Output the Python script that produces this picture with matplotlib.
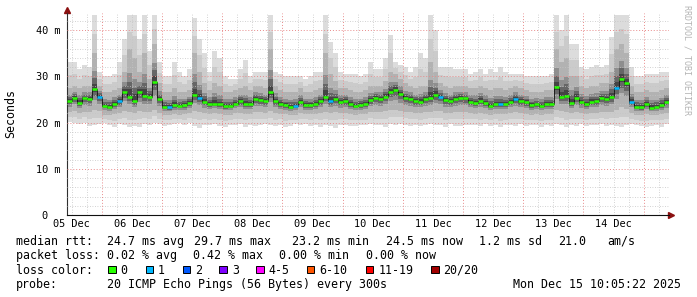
import numpy as np
import matplotlib.pyplot as plt
from matplotlib.patches import Rectangle
from datetime import datetime, timedelta

# ---- data (2 h steps, 10 days ending at the graph time) ----
end_time = datetime(2025, 12, 15, 10, 5, 22)
span_h = 240
step_h = 2

# median rtt per step (ms)
med = [24.6, 25.3, 24.3, 25.2, 25.0, 27.2, 25.6, 23.6, 23.4, 23.9, 24.6, 26.6, 25.6, 24.7, 26.6, 25.8, 25.6, 28.8, 25.0, 23.4,
       23.3, 23.8, 23.6, 23.8, 24.2, 26.0, 25.3, 24.4, 24.0, 24.1, 23.9, 23.5, 23.6, 24.1, 24.6, 24.0, 24.0, 25.0, 24.8, 24.6,
       26.5, 24.6, 24.0, 23.7, 23.4, 23.6, 24.5, 23.8, 23.7, 24.0, 24.6, 25.6, 24.6, 25.0, 24.4, 24.6, 24.0, 23.6, 23.8, 24.1,
       24.9, 25.3, 25.0, 25.6, 26.6, 27.1, 26.1, 25.3, 25.1, 24.6, 24.5, 25.0, 25.4, 26.0, 25.6, 24.8, 24.6, 25.1, 25.4, 25.2,
       24.5, 24.2, 24.7, 24.2, 23.6, 24.0, 23.9, 24.1, 24.5, 25.0, 24.6, 24.4, 23.7, 23.9, 23.6, 24.0, 24.1, 27.6, 25.5, 25.8,
       24.2, 25.4, 24.4, 24.0, 24.5, 24.6, 25.2, 25.1, 25.5, 27.5, 29.4, 28.5, 24.5, 23.4, 23.3, 23.9, 23.2, 23.4, 23.8, 24.4]
# smoke: lowest ping, lower / upper quartile, highest ping
lo = [20.2, 19.8, 19.6, 19.9, 19.2, 19.4, 19.6, 19.8, 19.5, 19.0, 19.6, 19.5, 19.0, 19.3, 19.1, 19.6, 19.4, 19.8, 19.6, 19.3,
      19.5, 19.6, 19.9, 19.4, 19.8, 19.2, 18.8, 19.5, 19.4, 19.7, 19.3, 19.0, 19.5, 19.4, 19.6, 19.1, 19.5, 19.3, 19.5, 19.6,
      19.4, 19.2, 19.5, 19.0, 19.3, 19.6, 19.5, 19.7, 19.3, 19.5, 19.1, 19.4, 19.2, 18.8, 19.4, 19.5, 19.3, 19.2, 19.5, 19.4,
      19.6, 19.4, 19.5, 19.0, 19.6, 19.4, 19.7, 19.5, 19.2, 19.5, 19.3, 19.5, 19.6, 19.4, 19.5, 19.1, 19.6, 19.3, 19.2, 19.5,
      19.4, 19.5, 19.2, 19.6, 19.3, 19.5, 19.0, 19.4, 19.5, 19.3, 19.6, 19.2, 19.5, 19.4, 19.0, 19.5, 19.3, 19.6, 19.5, 19.0,
      19.4, 19.2, 19.6, 19.3, 19.5, 19.4, 19.6, 19.3, 19.5, 19.2, 19.0, 19.4, 19.6, 19.4, 19.2, 19.0, 19.3, 19.5, 19.1, 19.6]
q1 = [22.3, 22.5, 22.1, 22.3, 22.2, 22.6, 22.4, 21.7, 21.6, 21.8, 22.0, 22.5, 22.2, 22.0, 22.4, 22.3, 22.2, 22.8, 22.1, 21.6,
      21.6, 21.8, 21.7, 21.8, 22.0, 22.4, 22.2, 22.0, 21.9, 22.0, 21.9, 21.7, 21.7, 22.0, 22.1, 21.9, 21.9, 22.2, 22.2, 22.1,
      22.5, 22.1, 21.9, 21.8, 21.7, 21.7, 22.0, 21.8, 21.8, 21.9, 22.1, 22.3, 22.1, 22.2, 22.0, 22.1, 21.9, 21.7, 21.8, 21.9,
      22.2, 22.3, 22.2, 22.4, 22.7, 22.8, 22.5, 22.3, 22.2, 22.1, 22.0, 22.2, 22.3, 22.5, 22.4, 22.1, 22.1, 22.2, 22.3, 22.2,
      22.0, 21.9, 22.1, 21.9, 21.7, 21.9, 21.8, 21.9, 22.0, 22.2, 22.0, 21.9, 21.7, 21.8, 21.7, 21.8, 21.9, 22.6, 22.4, 22.2,
      22.0, 22.3, 22.0, 21.9, 22.0, 22.1, 22.3, 22.2, 22.3, 22.8, 23.3, 23.0, 22.0, 21.6, 21.6, 21.8, 21.6, 21.6, 21.8, 22.0]
q3 = [27.5, 28.0, 27.5, 28.0, 28.0, 35.0, 28.0, 26.5, 26.5, 27.0, 27.5, 31.0, 36.0, 34.0, 31.0, 35.0, 29.5, 37.0, 28.5, 26.5,
      26.5, 27.5, 26.5, 26.5, 27.0, 35.0, 31.0, 28.5, 27.0, 28.5, 28.0, 26.5, 26.5, 27.0, 27.5, 28.0, 27.0, 28.0, 28.0, 27.5,
      36.0, 28.0, 27.0, 26.5, 26.5, 26.5, 27.5, 26.5, 26.5, 27.0, 27.5, 35.0, 30.5, 29.0, 27.5, 27.5, 27.0, 26.5, 26.5, 27.0,
      28.0, 28.0, 28.0, 29.0, 31.0, 30.5, 29.5, 28.5, 28.0, 27.5, 28.0, 28.0, 33.0, 31.0, 28.5, 28.0, 27.5, 28.0, 28.0, 28.0,
      27.5, 27.5, 28.0, 27.5, 27.0, 27.5, 27.5, 27.0, 27.5, 28.0, 27.5, 27.0, 26.5, 26.5, 26.5, 27.0, 27.0, 36.0, 33.0, 34.0,
      30.0, 30.0, 28.0, 27.5, 28.0, 28.0, 28.5, 28.5, 31.0, 36.0, 37.0, 35.0, 28.0, 26.5, 26.5, 27.0, 26.5, 26.5, 27.0, 27.5]
hi = [33.0, 33.0, 31.5, 32.5, 32.0, 43.3, 31.0, 30.0, 30.0, 30.5, 33.0, 38.0, 43.3, 43.3, 38.0, 43.3, 35.5, 43.3, 33.0, 30.0,
      30.0, 33.0, 31.0, 30.0, 31.5, 42.6, 38.0, 35.0, 31.0, 35.5, 34.0, 30.0, 29.5, 29.5, 31.5, 33.5, 30.0, 31.0, 31.0, 31.0,
      43.3, 31.0, 30.5, 30.0, 30.0, 30.0, 30.0, 29.5, 30.0, 31.0, 31.0, 43.3, 37.5, 35.0, 31.0, 30.5, 30.5, 30.5, 30.0, 30.5,
      33.0, 31.5, 31.5, 34.0, 39.0, 33.0, 32.5, 32.0, 31.0, 32.0, 35.0, 34.0, 43.3, 40.0, 32.0, 32.0, 32.0, 31.5, 31.5, 31.5,
      30.5, 31.0, 31.5, 30.5, 31.5, 31.0, 32.0, 31.0, 30.5, 30.5, 30.5, 30.0, 30.0, 30.0, 30.0, 30.0, 30.5, 43.3, 40.0, 43.3,
      37.0, 37.0, 32.0, 31.5, 32.0, 32.5, 32.0, 32.5, 38.5, 43.3, 43.3, 43.3, 32.0, 30.0, 30.0, 30.5, 30.5, 30.5, 31.0, 31.0]
# lost pings (out of 20) per step
loss = [0] * 120
for i in [6, 10, 20, 26, 45, 52, 74, 86, 89, 109, 112]:
    loss[i] = 1

day_labels = ["05 Dec", "06 Dec", "07 Dec", "08 Dec", "09 Dec",
              "10 Dec", "11 Dec", "12 Dec", "13 Dec", "14 Dec"]
y_ticks = [0, 10, 20, 30, 40]
y_labels = ["0  ", "10 m", "20 m", "30 m", "40 m"]

loss_names = ["0", "1", "2", "3", "4-5", "6-10", "11-19", "20/20"]
loss_colors = ["#26ff00", "#00b8ff", "#0059ff", "#7e00ff",
               "#ff00ff", "#ff5500", "#ff0000", "#a10000"]
loss_bins = [1, 2, 3, 4, 6, 11, 20]

rtt_stats = ["24.7 ms avg", "29.7 ms max", "23.2 ms min", "24.5 ms now", "1.2 ms sd", "21.0", "am/s"]
loss_stats = ["0.02 % avg", "0.42 % max", "0.00 % min", "0.00 % now"]
probe_text = "20 ICMP Echo Pings (56 Bytes) every 300s"
stamp_text = "Mon Dec 15 10:05:22 2025"

# ---- figure ----
W, H = 697, 297
plt.rcParams["font.family"] = "DejaVu Sans Mono"

fig = plt.figure(figsize=(W / 100, H / 100), dpi=100)
fig.patch.set_facecolor("white")
ax = fig.add_axes([67 / W, (H - 215) / H, 602 / W, 202 / H])


def px(x, y):
    return x / W, 1 - y / H


med = np.array(med)
lo, q1, q3, hi = map(np.array, (lo, q1, q3, hi))
edges = np.arange(len(med) + 1) * step_h

# smoke: nested bands, lighter outside, darker towards the median
bands = [
    (lo, hi, "#dcdcdc"),
    ((lo + q1) / 2, (hi + q3) / 2, "#cbcbcb"),
    (q1, q3, "#b2b2b2"),
    ((q1 + med) / 2, (q3 + med) / 2, "#8e8e8e"),
    (med - 0.3 * (med - q1), med + 0.3 * (q3 - med), "#666666"),
    (med - 0.12 * (med - q1), med + 0.15 * (q3 - med), "#444444"),
]
for k, (b_lo, b_hi, c) in enumerate(bands):
    ax.stairs(b_hi, edges, baseline=b_lo, fill=True, color=c, lw=0, zorder=1 + 0.1 * k)

# median line, coloured by loss
ax.stairs(med, edges, baseline=None, color="#111111", lw=0.6, zorder=3)
cols = [loss_colors[k] for k in np.digitize(loss, loss_bins)]
ax.hlines(med, edges[:-1], edges[1:], colors=cols, lw=1.8, zorder=4)

# time axis
start = end_time - timedelta(hours=span_h)
first_mid = datetime(2025, 12, 6)
to_h = lambda d: (d - start) / timedelta(hours=1)
midnights = [to_h(first_mid + timedelta(days=k)) for k in range(10)]
noons = [m - 12 for m in midnights]
six_h = [noons[0] + 6 * k for k in range(41)]
minor = [t for k, t in enumerate(six_h) if k % 2 == 1 and t < span_h]

ax.set_xlim(0, span_h)
ax.set_ylim(0, 43.68)
ax.set_xticks(noons, day_labels)
ax.set_xticks(minor, minor=True)
ax.set_yticks(y_ticks, y_labels)
ax.set_yticks(np.arange(0, 44, 2), minor=True)

ax.tick_params(axis="both", which="both", length=0)
ax.tick_params(axis="x", labelsize=7.35, pad=3)
ax.tick_params(axis="y", labelsize=7.35, pad=4.7)

ax.set_axisbelow(False)
dot = (0, (1, 2))
ax.grid(axis="x", which="both", color="#c4c4c4", lw=0.6, ls=dot)
ax.grid(axis="y", which="minor", color="#c4c4c4", lw=0.6, ls=dot)
ax.grid(axis="y", which="major", color="#e88a8a", lw=0.7, ls=dot)
for m in midnights:
    ax.axvline(m, color="#e88a8a", lw=0.7, ls=dot, zorder=2.6)

for s in ["top", "right"]:
    ax.spines[s].set_visible(False)
ax.spines["left"].set_color("#303030")
ax.spines["bottom"].set_color("#101010")
ax.spines["left"].set_linewidth(0.8)
ax.spines["bottom"].set_linewidth(0.8)

# axis arrows
ax.plot([0], [1.015], marker="^", ms=4, color="#8b1010", transform=ax.transAxes, clip_on=False)
ax.plot([1.004], [0], marker=">", ms=4, color="#8b1010", transform=ax.transAxes, clip_on=False)

fig.text(*px(11, 114), "Seconds", rotation=90, ha="center", va="center", fontsize=8.4)
fig.text(*px(687.5, 5), "RRDTOOL / TOBI OETIKER", rotation=270, ha="center", va="top",
         fontsize=6, color="#b4b4b4")

# ---- legend rows ----
fs = 8.4
rows = [245, 259.3, 273.5, 287.7]

fig.text(*px(16, rows[0]), "median rtt:", fontsize=fs, va="baseline")
for x, s in zip([107.3, 194.3, 292.3, 386, 479.3, 558.3, 607.7], rtt_stats):
    fig.text(*px(x, rows[0]), s, fontsize=fs, va="baseline")

fig.text(*px(16, rows[1]), "packet loss:", fontsize=fs, va="baseline")
for x, s in zip([107.3, 193.3, 279, 365.7], loss_stats):
    fig.text(*px(x, rows[1]), s, fontsize=fs, va="baseline")

fig.text(*px(16, rows[2]), "loss color:", fontsize=fs, va="baseline")
for x, name, c in zip([108, 145.5, 182.5, 219.3, 256, 306.7, 365.7, 431], loss_names, loss_colors):
    fx, fy = px(x, 273)
    fig.add_artist(Rectangle((fx, fy), 7.5 / W, 7.5 / H, transform=fig.transFigure,
                             facecolor=c, edgecolor="black", lw=0.7))
    fig.text(*px(x + 12.5, rows[2]), name, fontsize=fs, va="baseline")

fig.text(*px(16, rows[3]), "probe:", fontsize=fs, va="baseline")
fig.text(*px(107.3, rows[3]), probe_text, fontsize=fs, va="baseline")
fig.text(*px(512.7, rows[3]), stamp_text, fontsize=fs, va="baseline")

fig.savefig("out.png", dpi=100, facecolor="white")
